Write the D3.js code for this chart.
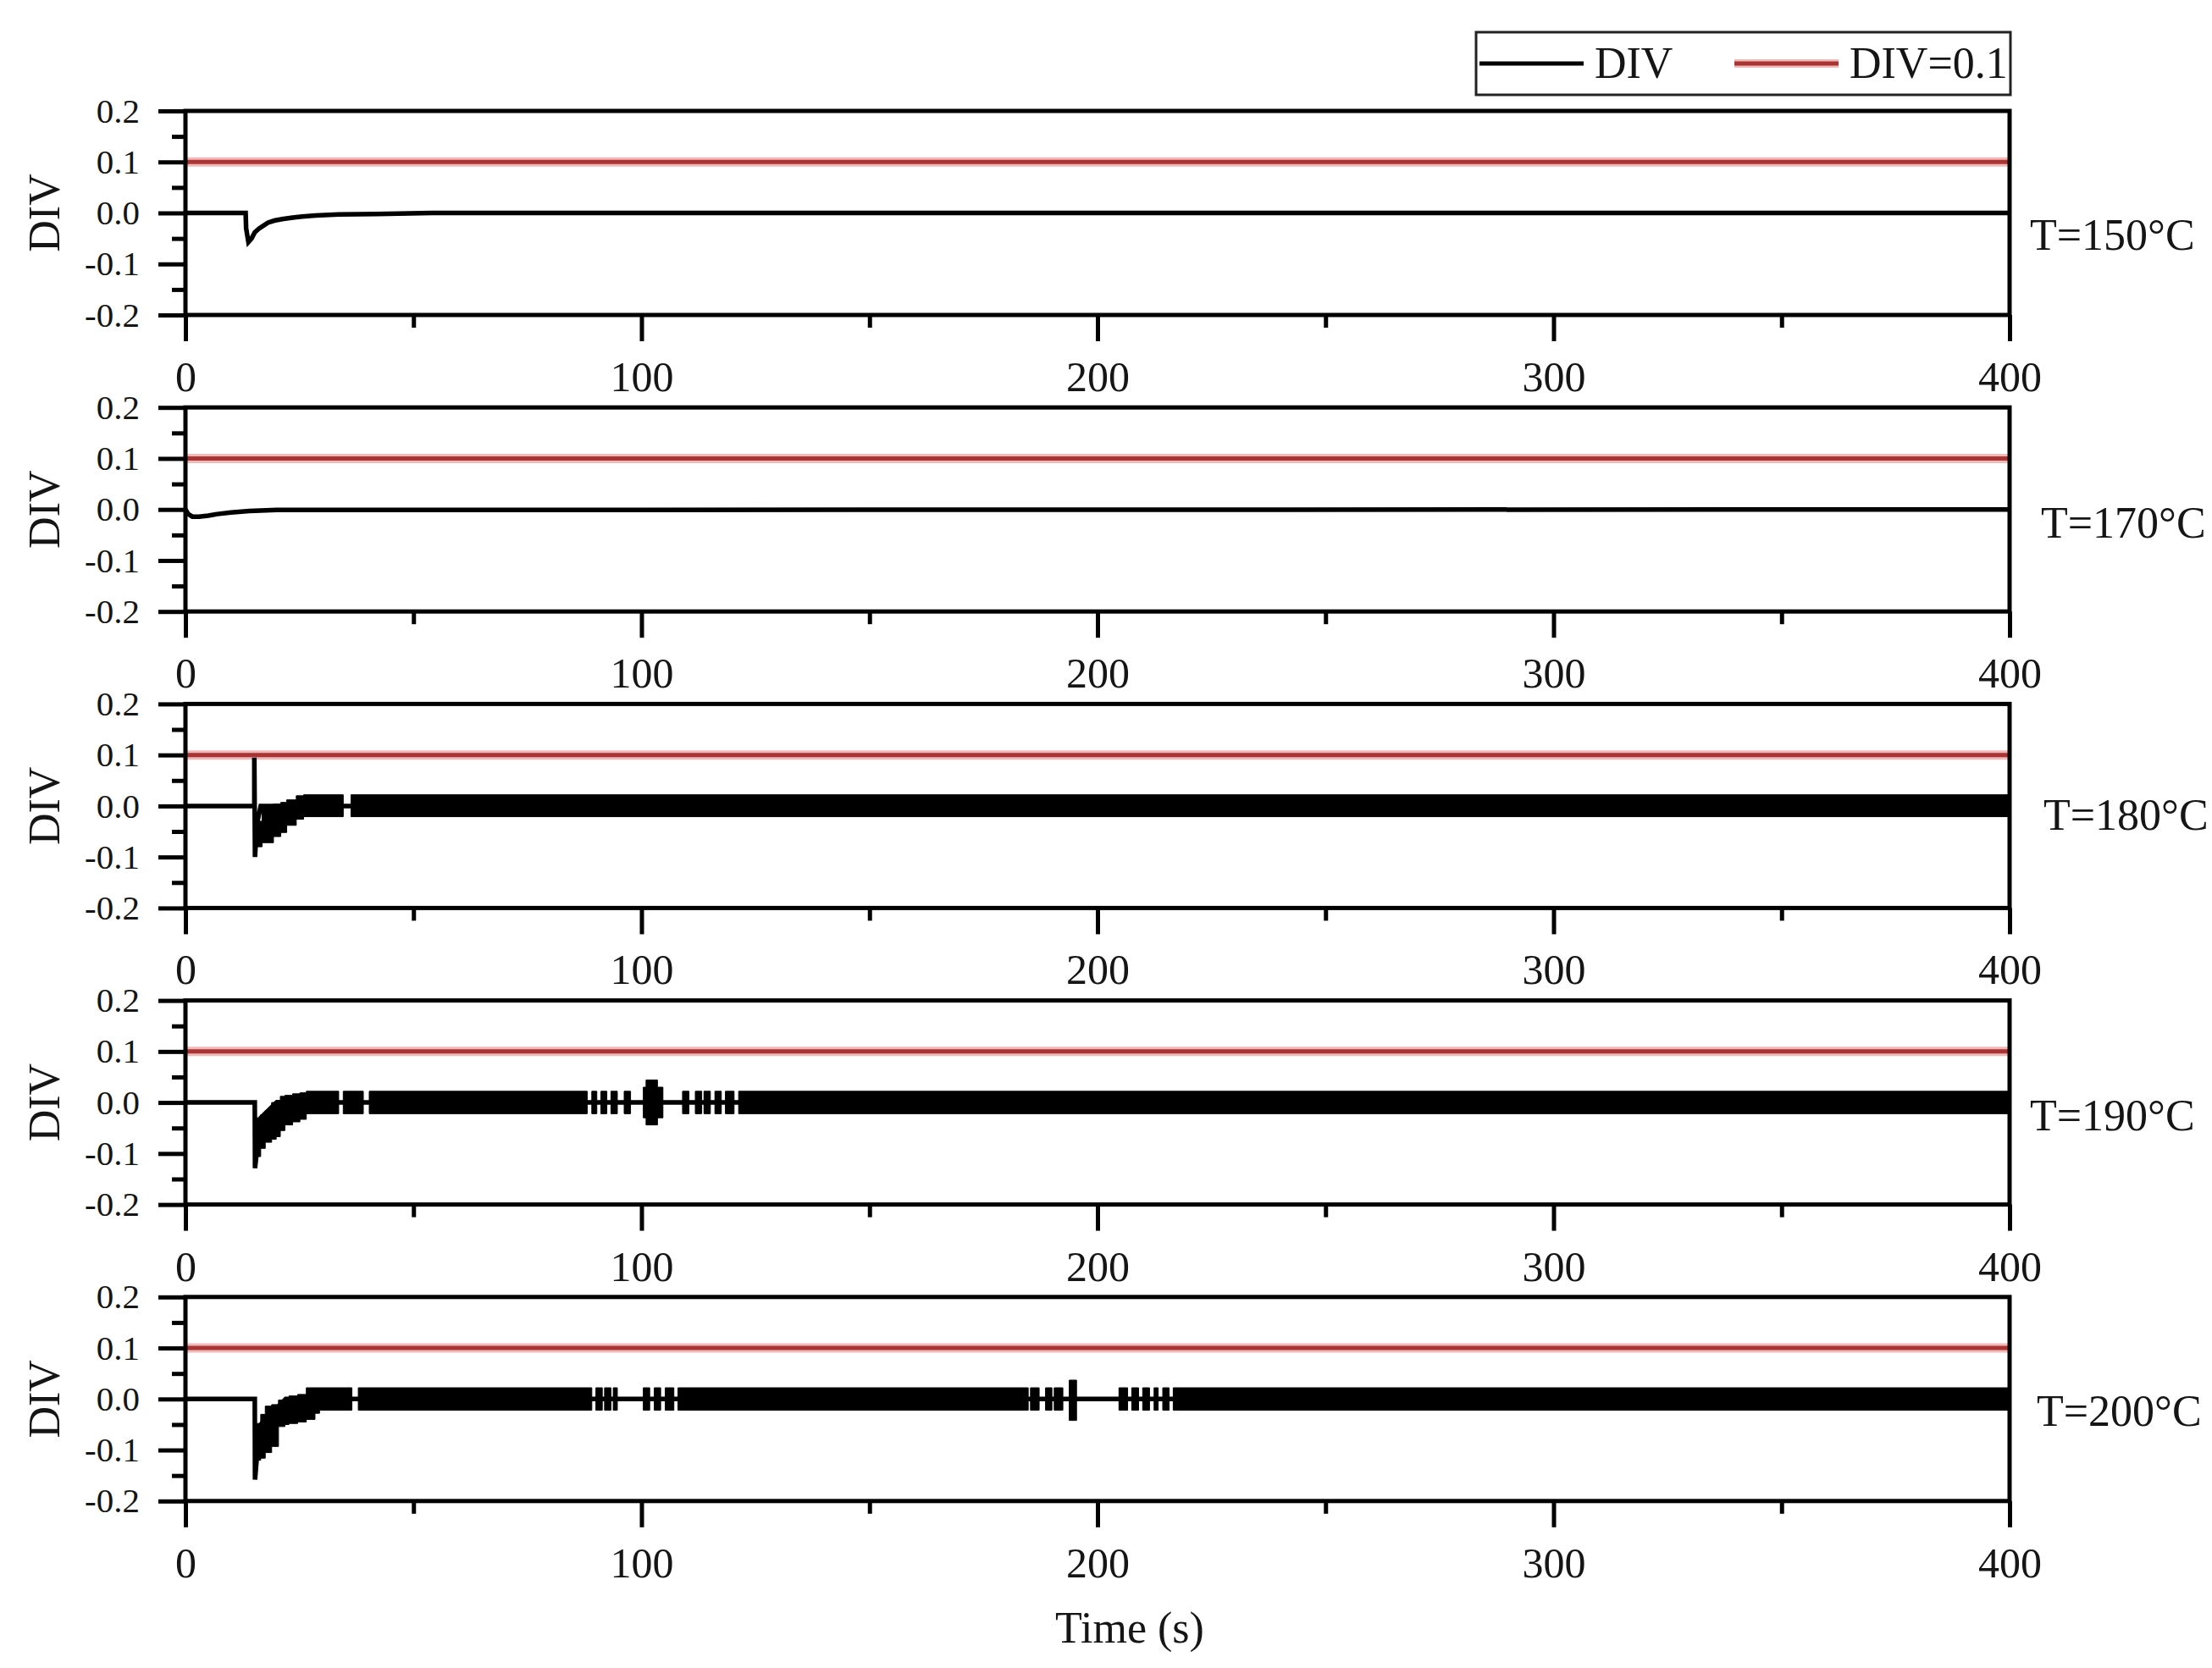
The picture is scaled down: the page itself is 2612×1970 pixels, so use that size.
<!DOCTYPE html>
<html>
<head>
<meta charset="utf-8">
<script src="https://cdn.jsdelivr.net/npm/d3@7"></script>
<style>
  html, body { margin: 0; padding: 0; background: #fff; }
  svg { display: block; }
  text { font-family: "Liberation Serif", "Times New Roman", serif; fill: #151515; }
</style>
</head>
<body>
<svg id="chart" width="2612" height="1970"></svg>
<script>
// ---------------- DATA ----------------
const xTicks = [0, 100, 200, 300, 400];
const xMinorTicks = [50, 150, 250, 350];
const yTicks = [-0.2, -0.1, 0.0, 0.1, 0.2];
const yTickLabels = ["-0.2", "-0.1", "0.0", "0.1", "0.2"];
const yMinorTicks = [-0.15, -0.05, 0.05, 0.15];
const panelLabels = ["T=150°C", "T=170°C", "T=180°C", "T=190°C", "T=200°C"];
const seriesNames = ["DIV", "DIV=0.1"];
const divThreshold = 0.1;

// Main DIV trace (time s, DIV value)
const div150T = [0, 13.2, 13.3, 13.8, 14.5, 15.2, 16.2, 18.1, 19.5, 21.2, 23.5, 25.6, 28.5, 33.6, 42, 55, 400];
const div150V = [0, 0, -0.03, -0.057, -0.05, -0.038, -0.03, -0.019, -0.015, -0.012, -0.009, -0.007, -0.005, -0.003, -0.002, 0, 0];

const div170T = [0, 0.6, 1.5, 3, 5, 7, 10, 14, 20, 400];
const div170V = [0, -0.009, -0.014, -0.014, -0.012, -0.009, -0.006, -0.003, -0.001, 0];

const div180T = [0, 15.1, 15.1, 15.25, 15.4, 15.8, 16.5, 400];
const div180V = [0, 0, 0.095, -0.1, -0.075, -0.03, 0, 0];

const div190T = [0, 15.2, 15.25, 15.6, 16.5, 20, 400];
const div190V = [0, 0, -0.129, -0.1, -0.03, 0, 0];

const div200T = [0, 15.2, 15.25, 15.6, 16.5, 22, 400];
const div200V = [0, 0, -0.158, -0.12, -0.05, 0, 0];

// Oscillation envelope: start time of each step, lower and upper bound
const env180T  = [15.4, 16.8, 19.3, 20.9, 22.2, 24.3, 25.9, 34.6, 36.3, 400];
const env180Lo = [-0.08, -0.072, -0.06, -0.052, -0.038, -0.026, -0.021, 0, -0.021, -0.021];
const env180Hi = [-0.03, 0.0, 0.004, 0.007, 0.012, 0.02, 0.022, 0, 0.022, 0.022];

const env190T  = [15.6, 16.5, 17.5, 18.9, 19.9, 20.8, 21.8, 23.5, 25.1, 26.5, 33.6, 34.6, 39.0, 40.3, 88.1, 89.1, 90.2, 91.1, 92.4, 93.3, 94.7, 96.2, 97.6, 100.4, 101.0, 103.5, 104.7, 109.0, 110.4, 111.8, 113.2, 113.7, 115.1, 116.1, 117.5, 118.4, 120.3, 121.3, 400];
const env190Lo = [-0.106, -0.09, -0.078, -0.072, -0.067, -0.055, -0.044, -0.038, -0.033, -0.022, 0, -0.022, 0, -0.022, 0, -0.022, 0, -0.022, 0, -0.022, 0, -0.022, 0, -0.03, -0.044, -0.03, 0, -0.022, 0, -0.022, 0, -0.022, 0, -0.022, 0, -0.022, 0, -0.022, -0.022];
const env190Hi = [-0.03, -0.024, -0.016, 0.0, 0.004, 0.012, 0.014, 0.017, 0.019, 0.022, 0, 0.022, 0, 0.022, 0, 0.022, 0, 0.022, 0, 0.022, 0, 0.022, 0, 0.03, 0.044, 0.03, 0, 0.022, 0, 0.022, 0, 0.022, 0, 0.022, 0, 0.022, 0, 0.022, 0.022];

const env200T  = [15.6, 16.5, 17.5, 18.9, 20.4, 21.8, 22.7, 24.6, 26.5, 28.4, 29.4, 36.5, 37.9, 89.1, 90.0, 91.4, 91.9, 93.3, 93.8, 94.7, 100.4, 101.8, 102.8, 104.2, 105.2, 107.1, 108.0, 184.8, 185.3, 187.2, 188.6, 190.0, 190.5, 192.4, 193.8, 195.4, 204.7, 206.6, 207.5, 209.0, 209.9, 211.4, 212.4, 213.3, 214.3, 215.7, 216.6, 400];
const env200Lo = [-0.12, -0.116, -0.105, -0.093, -0.054, -0.05, -0.048, -0.045, -0.04, -0.028, -0.022, 0, -0.022, 0, -0.022, 0, -0.022, 0, -0.022, 0, -0.022, 0, -0.022, 0, -0.022, 0, -0.022, 0, -0.022, 0, -0.022, 0, -0.022, 0, -0.042, 0, -0.022, 0, -0.022, 0, -0.022, 0, -0.022, 0, -0.022, 0, -0.022, -0.022];
const env200Hi = [-0.048, -0.03, -0.014, -0.011, -0.002, 0.003, 0.006, 0.009, 0.022, 0.022, 0.022, 0, 0.022, 0, 0.022, 0, 0.022, 0, 0.022, 0, 0.022, 0, 0.022, 0, 0.022, 0, 0.022, 0, 0.022, 0, 0.022, 0, 0.022, 0, 0.037, 0, 0.022, 0, 0.022, 0, 0.022, 0, 0.022, 0, 0.022, 0, 0.022, 0.022];

// ---------------- BUILD ----------------
const zip2 = (T, V) => T.map((t, i) => ({ t, v: V[i] }));
const zip3 = (T, L, H) => T.map((t, i) => ({ t, lo: L[i], hi: H[i] }));

const panels = [
  { label: panelLabels[0], trace: zip2(div150T, div150V), env: null, lx: 2397, ly: 43 },
  { label: panelLabels[1], trace: zip2(div170T, div170V), env: null, lx: 2410, ly: 33 },
  { label: panelLabels[2], trace: zip2(div180T, div180V), env: zip3(env180T, env180Lo, env180Hi), lx: 2413, ly: 28 },
  { label: panelLabels[3], trace: zip2(div190T, div190V), env: zip3(env190T, env190Lo, env190Hi), lx: 2397, ly: 33 },
  { label: panelLabels[4], trace: zip2(div200T, div200V), env: zip3(env200T, env200Lo, env200Hi), lx: 2405, ly: 32 }
];

const svg = d3.select("#chart");
const plotLeft = 219, plotRight = 2373;
const firstTop = 131, panelH = 241, panelStep = 350.2;
const red = "#a93434";

const x = d3.scaleLinear().domain([0, 400]).range([plotLeft, plotRight]);
const defs = svg.append("defs");

panels.forEach((p, i) => {
  const top = firstTop + i * panelStep;
  const bottom = top + panelH;
  const y = d3.scaleLinear().domain([-0.2, 0.2]).range([bottom, top]);
  const g = svg.append("g");

  const clipId = "clip" + i;
  defs.append("clipPath").attr("id", clipId)
    .append("rect").attr("x", plotLeft).attr("y", top).attr("width", plotRight - plotLeft).attr("height", panelH);

  const data = g.append("g").attr("clip-path", `url(#${clipId})`);

  // threshold line DIV = 0.1
  data.append("line")
    .attr("x1", x(0)).attr("x2", x(400))
    .attr("y1", y(divThreshold)).attr("y2", y(divThreshold))
    .attr("stroke", "#f2b9b9").attr("stroke-width", 11);
  data.append("line")
    .attr("x1", x(0)).attr("x2", x(400))
    .attr("y1", y(divThreshold)).attr("y2", y(divThreshold))
    .attr("stroke", red).attr("stroke-width", 5);

  // trace
  const line = d3.line().x(d => x(d.t)).y(d => y(d.v));
  data.append("path").datum(p.trace)
    .attr("d", line).attr("fill", "none")
    .attr("stroke", "#000").attr("stroke-width", 5.5)
    .attr("stroke-linejoin", "miter");

  // oscillation envelope
  if (p.env) {
    const area = d3.area().curve(d3.curveStepAfter)
      .x(d => x(d.t)).y0(d => y(d.lo)).y1(d => y(d.hi));
    data.append("path").datum(p.env)
      .attr("d", area).attr("fill", "#000")
      .attr("stroke", "#000").attr("stroke-width", 1);
  }

  // frame
  g.append("rect")
    .attr("x", plotLeft).attr("y", top)
    .attr("width", plotRight - plotLeft).attr("height", panelH)
    .attr("fill", "none").attr("stroke", "#000").attr("stroke-width", 5);

  // y axis major
  const yAxis = g.append("g").attr("transform", `translate(${plotLeft},0)`)
    .call(d3.axisLeft(y).tickValues(yTicks).tickSize(32).tickPadding(22)
      .tickFormat((d, k) => yTickLabels[k]));
  yAxis.select(".domain").remove();
  yAxis.selectAll("line").attr("stroke", "#000").attr("stroke-width", 5);
  yAxis.selectAll("text").attr("font-size", 41).attr("font-family", "Liberation Serif, serif").attr("fill", "#151515");
  // y axis minor
  const yMinor = g.append("g").attr("transform", `translate(${plotLeft},0)`)
    .call(d3.axisLeft(y).tickValues(yMinorTicks).tickSize(16).tickFormat(""));
  yMinor.select(".domain").remove();
  yMinor.selectAll("line").attr("stroke", "#000").attr("stroke-width", 5);

  // x axis major
  const xAxis = g.append("g").attr("transform", `translate(0,${bottom})`)
    .call(d3.axisBottom(x).tickValues(xTicks).tickSize(31).tickPadding(23.5).tickFormat(d3.format("d")));
  xAxis.select(".domain").remove();
  xAxis.selectAll("line").attr("stroke", "#000").attr("stroke-width", 5);
  xAxis.selectAll("text").attr("font-size", 50).attr("font-family", "Liberation Serif, serif").attr("fill", "#151515");
  const xMinor = g.append("g").attr("transform", `translate(0,${bottom})`)
    .call(d3.axisBottom(x).tickValues(xMinorTicks).tickSize(15).tickFormat(""));
  xMinor.select(".domain").remove();
  xMinor.selectAll("line").attr("stroke", "#000").attr("stroke-width", 5);

  // y label
  g.append("text")
    .attr("transform", `translate(52,${y(0)}) rotate(-90)`)
    .attr("text-anchor", "middle").attr("dominant-baseline", "central")
    .attr("font-size", 52).text("DIV");

  // temperature label
  g.append("text")
    .attr("x", p.lx).attr("y", y(0) + p.ly)
    .attr("font-size", 52).text(p.label);
});

// x axis title
svg.append("text").attr("x", 1334).attr("y", 1940)
  .attr("text-anchor", "middle").attr("font-size", 52).text("Time (s)");

// legend
const lg = svg.append("g");
lg.append("rect").attr("x", 1743).attr("y", 38).attr("width", 631).attr("height", 74)
  .attr("fill", "#fff").attr("stroke", "#222").attr("stroke-width", 3);
lg.append("line").attr("x1", 1747).attr("x2", 1870).attr("y1", 75).attr("y2", 75)
  .attr("stroke", "#000").attr("stroke-width", 5);
lg.append("text").attr("x", 1883).attr("y", 92).attr("font-size", 52).text(seriesNames[0]);
lg.append("line").attr("x1", 2048).attr("x2", 2171).attr("y1", 75).attr("y2", 75)
  .attr("stroke", "#f2b9b9").attr("stroke-width", 10);
lg.append("line").attr("x1", 2048).attr("x2", 2171).attr("y1", 75).attr("y2", 75)
  .attr("stroke", red).attr("stroke-width", 5);
lg.append("text").attr("x", 2184).attr("y", 92).attr("font-size", 52).text(seriesNames[1]);
</script>
</body>
</html>
